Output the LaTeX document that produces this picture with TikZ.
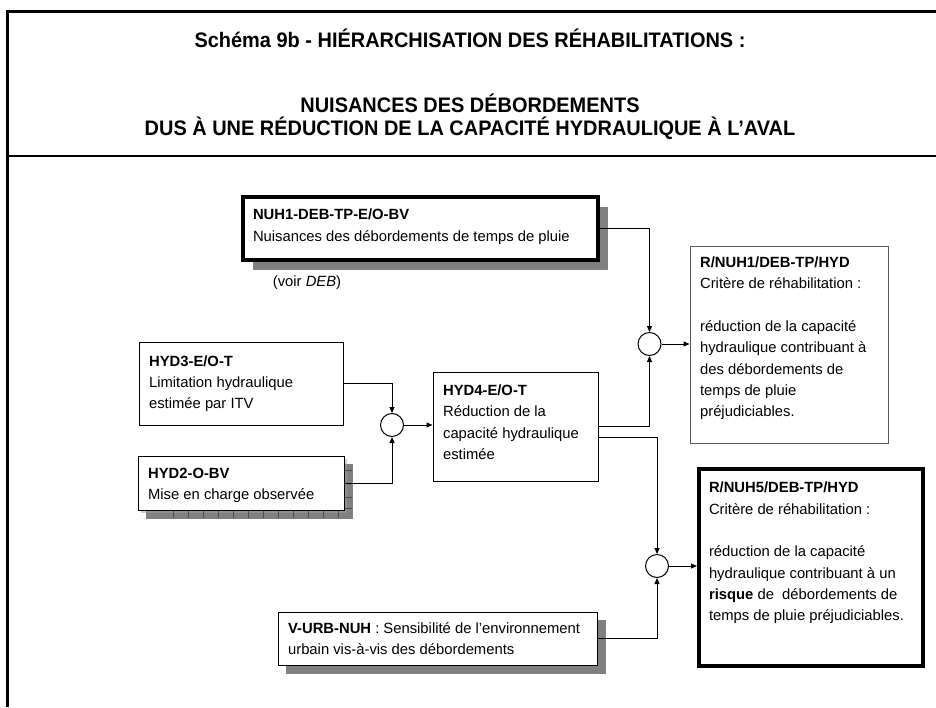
\documentclass[tikz,border=0pt]{standalone}
\usepackage{fontspec}
\setmainfont{Liberation Sans}
\newfontfamily\titlefont[FakeStretch=0.95]{Liberation Sans}
\usetikzlibrary{arrows.meta,shadows}

% text block of a box: width, height, space above first line, lines
\newcommand{\boxtext}[4]{\parbox[t][#2pt][t]{#1pt}{\vspace*{#3pt}\leftskip=10pt\strut#4}}

\begin{document}
\begin{tikzpicture}[x=1pt,y=-1pt,
  >={Triangle[length=6pt,width=5pt]},
  box/.style={draw, fill=white, line width=1.2pt, anchor=north west, inner sep=0pt,
    font=\fontsize{14.8}{21.3}\selectfont},
  thickbox/.style={box, line width=4pt},
  shadowed/.style={drop shadow={shadow xshift=#1, shadow yshift=-#1,
    fill=black!50, opacity=1}},
  junction/.style={draw, circle, line width=1pt, minimum size=23pt, inner sep=0pt},
  link/.style={->, line width=1pt},
  title/.style={font=\titlefont\fontsize{21}{24}\selectfont\bfseries, anchor=base}]
\useasboundingbox (0,0) rectangle (936,707);
% frame
\draw[line width=3pt] (7,707) -- (7,11) -- (936,11);
\draw[line width=1.5pt] (7,156) -- (936,156);
% title
\node[title] (head1) at (470,47) {Schéma 9b - HIÉRARCHISATION DES RÉHABILITATIONS :};
\node[title] (head2) at (470,112) {NUISANCES DES DÉBORDEMENTS};
\node[title] (head3) at (470,135) {DUS À UNE RÉDUCTION DE LA CAPACITÉ HYDRAULIQUE À L’AVAL};
% input boxes
\node[thickbox, shadowed=10pt] (nuh1) at (241,195)
  {\boxtext{355}{63}{8}{\textbf{NUH1-DEB-TP-E/O-BV}\\Nuisances des débordements de temps de pluie}};
\node[font=\fontsize{14.8}{21.3}\selectfont] (voir) at (307,283) {(voir \textit{DEB})};
\node[box] (hyd3) at (138.5,341.5)
  {\boxtext{204.5}{83}{9}{\textbf{HYD3-E/O-T}\\Limitation hydraulique\\estimée par ITV}};
\node[box, shadowed=8pt, drop shadow={fill=black!38}] (hyd2) at (137.5,455.5)
  {\boxtext{206.5}{54.5}{7.6}{\textbf{HYD2-O-BV}\\Mise en charge observée}};
\foreach \x in {173,188,...,338}
  \draw[black!70, line width=0.6pt] (\x,511) -- (\x,518);
\foreach \y in {470,483,497,508}
  \draw[black!70, line width=0.6pt] (345,\y) -- (352,\y);
\node[box] (hyd4) at (432.5,371.5)
  {\boxtext{165.5}{109.5}{8.6}{\textbf{HYD4-E/O-T}\\Réduction de la\\capacité hydraulique\\estimée}};
\node[box, shadowed=8pt] (vurb) at (277.5,611.5)
  {\boxtext{319.5}{53.5}{6.6}{\textbf{V-URB-NUH} : Sensibilité de l’environnement\\urbain vis-à-vis des débordements}};
% criteria
\node[box, draw=black!65] (rnuh1) at (689.5,245.5)
  {\boxtext{198.5}{197.5}{6.6}{\textbf{R/NUH1/DEB-TP/HYD}\\Critère de réhabilitation :\\[21.3pt]réduction de la capacité\\hydraulique contribuant à\\des débordements de\\temps de pluie\\préjudiciables.}};
\node[thickbox] (rnuh5) at (697,467)
  {\boxtext{224}{197}{9}{\textbf{R/NUH5/DEB-TP/HYD}\\Critère de réhabilitation :\\[21.3pt]réduction de la capacité\\hydraulique contribuant à un\\\textbf{risque} de~ débordements de\\temps de pluie préjudiciables.}};
% junctions
\node[junction] (c1) at (392,425) {};
\node[junction] (c2) at (649.5,344) {};
\node[junction] (c3) at (657,566) {};
% links
\draw[link] (hyd3.east) -| (c1.north);
\draw[link] (hyd2.east) -| (c1.south);
\draw[link] (c1.east) -- (c1.east -| hyd4.west);
\draw[link] (nuh1.east) -| (c2.north);
\draw[link] (hyd4.east) -| (c2.south);
\draw[link] (c2.east) -- (c2.east -| rnuh1.west);
\draw[link] ([yshift=-11pt]hyd4.east) -| (c3.north);
\draw[link] (vurb.east) -| (c3.south);
\draw[link] (c3.east) -- (c3.east -| rnuh5.west);
\end{tikzpicture}
\end{document}
